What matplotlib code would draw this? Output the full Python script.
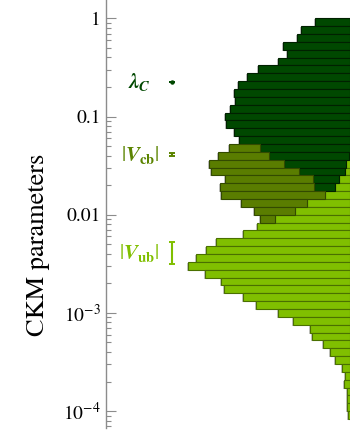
import matplotlib
matplotlib.use("Agg")
import matplotlib.pyplot as plt
import matplotlib.patheffects as pe
from matplotlib.ticker import FixedLocator, FixedFormatter, LogLocator, NullFormatter
from matplotlib.transforms import blended_transform_factory
import numpy as np

# log10 bin edges: 0, -0.08, -0.16, ... (51 bins, top bin starts at 1)
BIN_W = 0.08
N_BINS = 51

# bar lengths per bin (arbitrary units), stacked from the right edge:
# |V_ub| first, then lambda_C, then |V_cb|
lam_vals = [34.8, 48.8, 52.2, 66.2, 62.8, 71.2, 91.2, 102.2, 111.2, 115.5, 114.8,
            119.2, 124.2, 123.5, 115.5, 110.2, 90.0, 79.3, 61.7, 46.7, 25.6, 21.4]
vcb_vals = [30.3, 51.7, 75.3, 87.3, 88.4, 94.0, 103.7, 66.4, 41.0, 15.7]
vub_vals = [1.0, 3.6, 4.3, 11.0, 14.6, 24.6, 42.6, 54.3, 74.3, 92.7, 106.7, 133.3,
            144.0, 153.3, 161.7, 145.0, 128.7, 125.3, 107.0, 93.7, 71.3, 56.7,
            39.7, 37.7, 26.5, 19.5, 15.0, 7.5, 4.5, 5.5, 2.3, 2.3, 2.3, 1.8]
LAM_START, VCB_START, VUB_START = 0, 16, 17

# measured values shown as error bars: (value, lower, upper)
lam_pt = (0.2253, 0.2243, 0.2263)
vcb_pt = (0.0409, 0.0395, 0.0423)
vub_pt = (4.1e-3, 3.15e-3, 5.3e-3)

DARK = "#004800"
OLIVE = "#5a7d00"
LIGHT = "#80bf00"


def pad(vals, start):
    arr = np.zeros(N_BINS)
    arr[start:start + len(vals)] = vals
    return arr


lam = pad(lam_vals, LAM_START)
vcb = pad(vcb_vals, VCB_START)
vub = pad(vub_vals, VUB_START)

k = np.arange(N_BINS)
top = 10.0 ** (-BIN_W * k)
bot = 10.0 ** (-BIN_W * (k + 1))

plt.rcParams["font.family"] = "STIXGeneral"
plt.rcParams["mathtext.fontset"] = "custom"
plt.rcParams["mathtext.rm"] = "STIXGeneral"
plt.rcParams["mathtext.it"] = "STIXGeneral:italic:bold"
plt.rcParams["mathtext.bf"] = "STIXGeneral:bold"

fig = plt.figure(figsize=(3.57, 4.37), dpi=100)
ax = fig.add_axes([106 / 357, 1 - 428 / 437, 243.5 / 357, 428 / 437])

shadow = [pe.SimplePatchShadow(offset=(-0.7, -0.7), shadow_rgbFace="#888888", alpha=0.5),
          pe.Normal()]


def draw(widths, lefts, face, edge):
    m = widths > 0
    bars = ax.barh(bot[m], widths[m], height=(top - bot)[m], left=lefts[m], align="edge",
                   color=face, edgecolor=edge, linewidth=0.8)
    for b in bars:
        b.set_path_effects(shadow)


draw(vub, np.zeros(N_BINS), LIGHT, "#4a7000")
draw(lam, vub, DARK, "#002000")
draw(vcb, vub + lam, OLIVE, "#334a00")

ax.set_yscale("log")
ax.set_ylim(10 ** -4.172, 10 ** 0.1864)
ax.set_xlim(243.5, 0)

for s in ["top", "right", "bottom"]:
    ax.spines[s].set_visible(False)
ax.spines["left"].set_color("#8c8c8c")
ax.spines["left"].set_linewidth(1.0)

ax.set_xticks([])
ax.yaxis.set_major_locator(FixedLocator([1, 0.1, 0.01, 1e-3, 1e-4]))
ax.yaxis.set_major_formatter(FixedFormatter(["1", "0.1", "0.01", r"$10^{-3}$", r"$10^{-4}$"]))
ax.yaxis.set_minor_locator(LogLocator(base=10, subs=np.arange(2, 10)))
ax.yaxis.set_minor_formatter(NullFormatter())
ax.tick_params(axis="y", which="major", direction="in", length=7.5, width=0.8,
               color="#8c8c8c", labelsize=14, pad=4)
ax.tick_params(axis="y", which="minor", direction="in", length=3.5, width=0.8,
               color="#8c8c8c")

fig.text(38 / 357, 1 - 245 / 437, "CKM parameters", rotation=90, fontsize=19,
         ha="center", va="center")

tr = blended_transform_factory(ax.transAxes, ax.transData)
x_err = (171.5 - 106) / 243.5
labels = [(r"$\lambda_C$", lam_pt, DARK, 150.5, 2.2),
          (r"$|V_{\mathbf{cb}}|$", vcb_pt, "#5b8400", 159.5, 0),
          (r"$|V_{\mathbf{ub}}|$", vub_pt, LIGHT, 159.5, 0)]
for txt, (v, lo, hi), col, xr, ms in labels:
    ax.errorbar([x_err], [v], yerr=[[v - lo], [hi - v]], transform=tr, fmt="o",
                ms=ms, color=col, ecolor=col, elinewidth=1.5, capsize=2.5,
                capthick=1.4, clip_on=False)
    ax.text((xr - 106) / 243.5, v, txt, transform=tr, ha="right", va="center",
            fontsize=15, color=col)

fig.savefig("out.png", dpi=100)
